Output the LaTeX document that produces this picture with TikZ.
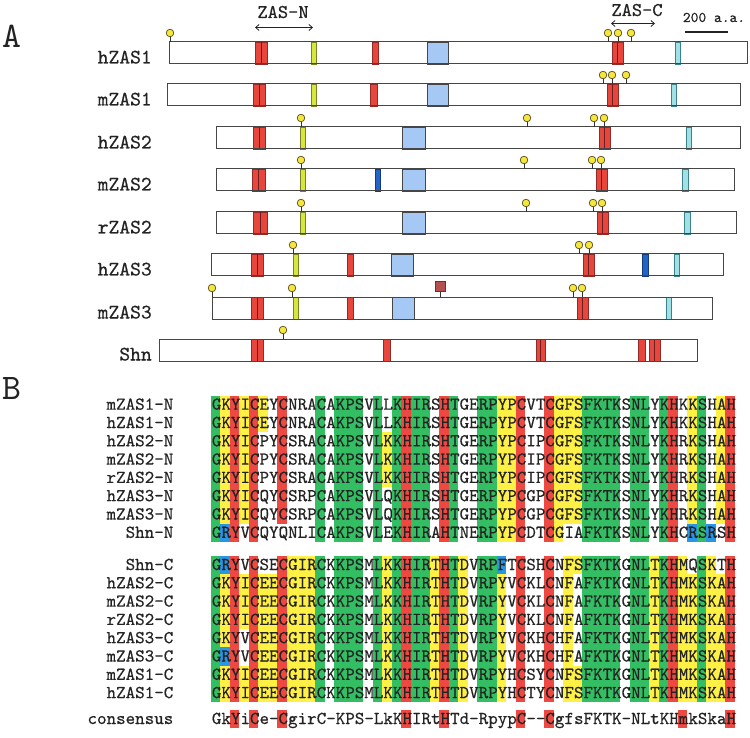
\documentclass[tikz,border=0pt]{standalone}
\usepackage{fontspec}
\newfontfamily\monof{lmmono10-regular.otf}[FakeBold=0.45]
\newfontfamily\monol{lmmono10-regular.otf}
\usetikzlibrary{arrows.meta}
\definecolor{cg}{RGB}{52,190,100}
\definecolor{cy}{RGB}{255,240,70}
\definecolor{cr}{RGB}{238,72,66}
\definecolor{cb}{RGB}{40,150,230}
\definecolor{txt}{RGB}{35,35,35}
\definecolor{bline}{RGB}{70,70,70}
\definecolor{cred}{RGB}{230,70,60}
\definecolor{credd}{RGB}{110,30,30}
\definecolor{cyel}{RGB}{215,230,60}
\definecolor{cyeld}{RGB}{120,130,40}
\definecolor{clblue}{RGB}{165,200,245}
\definecolor{ccyan}{RGB}{160,225,230}
\definecolor{ccyand}{RGB}{60,130,140}
\definecolor{cdblue}{RGB}{35,100,200}
\definecolor{pinfill}{RGB}{245,230,60}
\definecolor{pindraw}{RGB}{90,80,30}
\definecolor{sqbrown}{RGB}{180,80,80}
\makeatletter
\def\alnX{210.6}
\def\alnW{9.53}
\def\alnH{18.3}
\newcount\aln@n
\newcommand\alnrow[2]{\def\aln@y{#1}\aln@n=0 \aln@parse#2\@nil}
\def\aln@parse#1{\ifx#1\@nil\else\aln@cell#1\expandafter\aln@parse\fi}
\def\aln@cell#1{%
  \ifx#1g\aln@fill{cg}\fi
  \ifx#1y\aln@fill{cy}\fi
  \ifx#1r\aln@fill{cr}\fi
  \ifx#1b\aln@fill{cb}\fi
  \advance\aln@n by 1\relax}
\def\aln@fill#1{\fill[#1] ({\alnX+\alnW*\the\aln@n},{\aln@y-\alnH/2}) rectangle ++(\alnW,\alnH);}
\makeatother
\newcommand\rdouble[3]{\filldraw[rb] (#1,#3) rectangle (#2,{#3+22}); \draw[rline] ({(#1+#2)/2},#3) -- ({(#1+#2)/2},{#3+22});}
\newcommand\rsingle[3]{\filldraw[rb] (#1,#3) rectangle (#2,{#3+22});}
\newcommand\yband[3]{\filldraw[yb] (#1,#3) rectangle (#2,{#3+22});}
\newcommand\lband[3]{\filldraw[lb] (#1,#3) rectangle (#2,{#3+22});}
\newcommand\cband[3]{\filldraw[cyb] (#1,#3) rectangle (#2,{#3+22});}
\newcommand\dband[3]{\filldraw[db] (#1,#3) rectangle (#2,{#3+22});}
\newcommand\pinat[2]{\draw[stem] (#1,#2) -- (#1,{#2-9}); \filldraw[pinhead] (#1,{#2-9}) circle (3.8pt);}
\begin{document}
\begin{tikzpicture}[x=1pt,y=-1pt,
  protbar/.style={draw=bline, line width=1pt},
  rb/.style={fill=cred, draw=credd!70!cred, line width=0.5pt},
  rline/.style={draw=credd, line width=0.9pt},
  yb/.style={fill=cyel, draw=cyeld, line width=0.5pt},
  lb/.style={fill=clblue, draw=bline, line width=0.8pt},
  cyb/.style={fill=ccyan, draw=ccyand, line width=0.6pt},
  db/.style={fill=cdblue, draw=cdblue!60!black, line width=0.5pt},
  stem/.style={draw=black!80, line width=0.9pt},
  pinhead/.style={fill=pinfill, draw=pindraw, line width=0.7pt},
  plabel/.style={font=\monof\fontsize{20.6}{20}\selectfont, text=txt, inner sep=0pt, anchor=base east},
  seq/.style={font=\monof\fontsize{18.15}{18}\selectfont, text=txt, inner sep=0pt},
  big/.style={font=\monol\fontsize{36}{36}\selectfont, text=txt, inner sep=0pt},
  dom/.style={font=\monof\fontsize{19.5}{19.5}\selectfont, text=txt, inner sep=0pt, anchor=base},
  darr/.style={draw=txt, line width=0.8pt, {Straight Barb[length=3.5pt,width=6pt]}-{Straight Barb[length=3.5pt,width=6pt]}}
]
\useasboundingbox (0,0) rectangle (750,738);
\fill[white] (0,0) rectangle (750,738);
% ---------- panel A ----------
\node[big, anchor=base west] (labA) at (2,48) {A};
\node[dom] (zasn) at (283,18) {ZAS-N};
\coordinate (zasnL) at (255,27.5); \coordinate (zasnR) at (313,27.5);
\draw[darr] (zasnL) -- (zasnR);
\node[dom] (zasc) at (637,16) {ZAS-C};
\coordinate (zascL) at (611,23.5); \coordinate (zascR) at (655,23.5);
\draw[darr] (zascL) -- (zascR);
\node[font=\monof\fontsize{14.8}{14}\selectfont, text=txt, inner sep=0pt, anchor=base] (scl) at (714,22) {200 a.a.};
\coordinate (sclL) at (685,32); \coordinate (sclR) at (728,32);
\draw[txt, line width=1.5pt] (sclL) -- (sclR);
% hZAS1
\filldraw[protbar, fill=white] (169,42) rectangle (747,64);
\rdouble{255}{267}{42} \yband{311}{316}{42} \rsingle{372}{378}{42} \lband{427}{448}{42}
\rdouble{612}{623}{42} \cband{675}{680}{42}
\draw[protbar] (169,42) rectangle (747,64);
\pinat{170}{42} \pinat{608}{42} \pinat{618}{42} \pinat{631}{42}
\node[plabel] (lh1) at (152,63.5) {hZAS1};
% mZAS1
\filldraw[protbar, fill=white] (167,84) rectangle (740,106);
\rdouble{253}{265}{84} \yband{311}{316}{84} \rsingle{370}{377}{84} \lband{427}{448}{84}
\rdouble{607}{618}{84} \cband{671}{676}{84}
\draw[protbar] (167,84) rectangle (740,106);
\pinat{603}{84} \pinat{612}{84} \pinat{626}{84}
\node[plabel] (lm1) at (152,105.5) {mZAS1};
% hZAS2
\filldraw[protbar, fill=white] (216,127) rectangle (740,149);
\rdouble{253}{265}{127} \yband{300}{305}{127} \lband{402}{425}{127}
\rdouble{599}{610}{127} \cband{686}{691}{127}
\draw[protbar] (216,127) rectangle (740,149);
\pinat{301}{127} \pinat{527}{127} \pinat{594}{127} \pinat{604}{127}
\node[plabel] (lh2) at (152,148.5) {hZAS2};
% mZAS2
\filldraw[protbar, fill=white] (216,169) rectangle (734,191);
\rdouble{252}{265}{169} \yband{300}{305}{169} \dband{375}{380}{169} \lband{402}{425}{169}
\rdouble{596}{607}{169} \cband{682}{688}{169}
\draw[protbar] (216,169) rectangle (734,191);
\pinat{301}{169} \pinat{524}{169} \pinat{592}{169} \pinat{601}{169}
\node[plabel] (lm2) at (152,190.5) {mZAS2};
% rZAS2
\filldraw[protbar, fill=white] (216,212) rectangle (736,234);
\rdouble{253}{267}{212} \yband{300}{305}{212} \lband{402}{425}{212}
\rdouble{597}{608}{212} \cband{684}{690}{212}
\draw[protbar] (216,212) rectangle (736,234);
\pinat{301}{212} \pinat{526}{212} \pinat{593}{212} \pinat{602}{212}
\node[plabel] (lr2) at (152,233.5) {rZAS2};
% hZAS3
\filldraw[protbar, fill=white] (211,254) rectangle (723,276);
\rdouble{251}{263}{254} \yband{293}{298}{254} \rsingle{347}{353}{254} \lband{391}{413}{254}
\rdouble{583}{594}{254} \dband{642}{648}{254} \cband{674}{679}{254}
\draw[protbar] (211,254) rectangle (723,276);
\pinat{293}{254} \pinat{579}{254} \pinat{589}{254}
\node[plabel] (lh3) at (152,275.5) {hZAS3};
% mZAS3
\filldraw[protbar, fill=white] (212,297) rectangle (712,319);
\rdouble{251}{263}{297} \yband{293}{298}{297} \rsingle{347}{353}{297} \lband{392}{414}{297}
\rdouble{577}{588}{297} \cband{666}{671}{297}
\draw[protbar] (212,297) rectangle (712,319);
\pinat{212}{297} \pinat{292}{297} \pinat{573}{297} \pinat{582}{297}
\draw[stem] (440,297) -- (440,291);
\filldraw[fill=sqbrown, draw=sqbrown!60!black, line width=0.7pt] (435,281) rectangle (445,291);
\node[plabel] (lm3) at (152,318.5) {mZAS3};
% Shn
\filldraw[protbar, fill=white] (159,339) rectangle (697,361);
\rdouble{251}{263}{339} \rsingle{383}{390}{339} \rdouble{536}{545}{339}
\rsingle{638}{645}{339} \rdouble{649}{660}{339}
\draw[protbar] (159,339) rectangle (697,361);
\pinat{283}{339}
\node[plabel] (lsh) at (152,360.5) {Shn};
% ---------- panel B ----------
\node[big, anchor=base west] (labB) at (2,399) {B};
% colour cells
\alnrow{404.7}{gyryr y.r.. .g.gg g.g.g rgg.r g..gg yyr.. ryyyg ggg.g g.gr. yg.yr}
\alnrow{423.0}{gyryr y.r.. .g.gg g.g.g rgg.r g..gg yyr.. ryyyg ggg.g g.gr. yg.yr}
\alnrow{441.3}{gyryr ..r.. .g.gg g.gyg rgg.r g..gg yyr.. ryyyg ggg.g g.gr. yg.yr}
\alnrow{459.6}{gyryr ..r.. .g.gg g.gyg rgg.r g..gg yyr.. ryyyg ggg.g g.gr. yg.yr}
\alnrow{477.9}{gyryr ..r.. .g.gg g.gyg rgg.r g..gg yyr.. ryyyg ggg.g g.gr. yg.yr}
\alnrow{496.2}{gyryr ..r.. .g.gg g.g.g rgg.r g..gg yyr.. ryyyg ggg.g g.gr. yg.yr}
\alnrow{514.5}{gyryr ..r.. .g.gg g.g.g rgg.r g..gg yyr.. ryyyg ggg.g g.gr. yg.yr}
\alnrow{532.8}{gbr.r ..... .g.gg g.g.g rgg.r g..gg yyr.. ry..g ggg.g g.gr. bgb.r}
\alnrow{565.0}{gbr.r ..ryy yg.gg g.gyg rggyr gy.gg b.r.. r.yyg ggg.g gygry .gy.r}
\alnrow{583.3}{gyryr yyryy yg.gg g.gyg rggyr gy.gg y.r.. r.y.g ggg.g gygry ygyyr}
\alnrow{601.6}{gyryr yyryy yg.gg g.gyg rggyr gy.gg y.r.. r.y.g ggg.g gygry ygyyr}
\alnrow{619.9}{gyryr yyryy yg.gg g.gyg rggyr gy.gg y.r.. r.y.g ggg.g gygry ygyyr}
\alnrow{638.2}{gyr.r yyryy yg.gg g.gyg rggyr gy.gg y.r.. r.y.g ggg.g gygry ygyyr}
\alnrow{656.5}{gbr.r yyryy yg.gg g.gyg rggyr gy.gg y.r.. r.y.g ggg.g gygry ygyyr}
\alnrow{674.8}{gyryr yyryy yg.gg g.gyg rggyr gy.gg y.r.. r.yyg ggg.g gygry ygyyr}
\alnrow{693.1}{gyryr yyryy yg.gg g.gyg rggyr gy.gg y.r.. r.yyg ggg.g gygry ygyyr}
\alnrow{719.0}{..r.r ..r.. ..... ..... r...r ..... ..r.. r.... ..... ....r ....r}
% labels and sequences
\foreach \nm/\yy/\sq [count=\k] in {
  mZAS1-N/409.7/GKYICEYCNRACAKPSVLLKHIRSHTGERPYPCVTCGFSFKTKSNLYKHKKSHAH,
  hZAS1-N/428.0/GKYICEYCNRACAKPSVLLKHIRSHTGERPYPCVTCGFSFKTKSNLYKHKKSHAH,
  hZAS2-N/446.3/GKYICPYCSRACAKPSVLKKHIRSHTGERPYPCIPCGFSFKTKSNLYKHRKSHAH,
  mZAS2-N/464.6/GKYICPYCSRACAKPSVLKKHIRSHTGERPYPCIPCGFSFKTKSNLYKHRKSHAH,
  rZAS2-N/482.9/GKYICPYCSRACAKPSVLKKHIRSHTGERPYPCIPCGFSFKTKSNLYKHRKSHAH,
  hZAS3-N/501.2/GKYICQYCSRPCAKPSVLQKHIRSHTGERPYPCGPCGFSFKTKSNLYKHRKSHAH,
  mZAS3-N/519.5/GKYICQYCSRPCAKPSVLQKHIRSHTGERPYPCGPCGFSFKTKSNLYKHRKSHAH,
  Shn-N/537.8/GRYVCQYQNLICAKPSVLEKHIRAHTNERPYPCDTCGIAFKTKSNLYKHCRSRSH,
  Shn-C/570.0/GRYVCSECGIRCKKPSMLKKHIRTHTDVRPFTCSHCNFSFKTKGNLTKHMQSKTH,
  hZAS2-C/588.3/GKYICEECGIRCKKPSMLKKHIRTHTDVRPYVCKLCNFAFKTKGNLTKHMKSKAH,
  mZAS2-C/606.6/GKYICEECGIRCKKPSMLKKHIRTHTDVRPYVCKLCNFAFKTKGNLTKHMKSKAH,
  rZAS2-C/624.9/GKYICEECGIRCKKPSMLKKHIRTHTDVRPYVCKLCNFAFKTKGNLTKHMKSKAH,
  hZAS3-C/643.2/GKYVCEECGIRCKKPSMLKKHIRTHTDVRPYVCKHCHFAFKTKGNLTKHMKSKAH,
  mZAS3-C/661.5/GRYVCEECGIRCKKPSMLKKHIRTHTDVRPYVCKHCHFAFKTKGNLTKHMKSKAH,
  mZAS1-C/679.8/GKYICEECGIRCKKPSMLKKHIRTHTDVRPYHCSYCNFSFKTKGNLTKHMKSKAH,
  hZAS1-C/698.1/GKYICEECGIRCKKPSMLKKHIRTHTDVRPYHCTYCNFSFKTKGNLTKHMKSKAH,
  consensus/724.0/GkYiCe-CgirC-KPS-LkKHIRtHTd-RpypC--CgfsFKTK-NLtKHmkSkaH}
{
  \node[seq, anchor=base east] (lab\k) at (173.5,\yy) {\nm};
  \node[seq, anchor=base west] (seq\k) at (211.7,\yy) {\sq};
}
\end{tikzpicture}
\end{document}
